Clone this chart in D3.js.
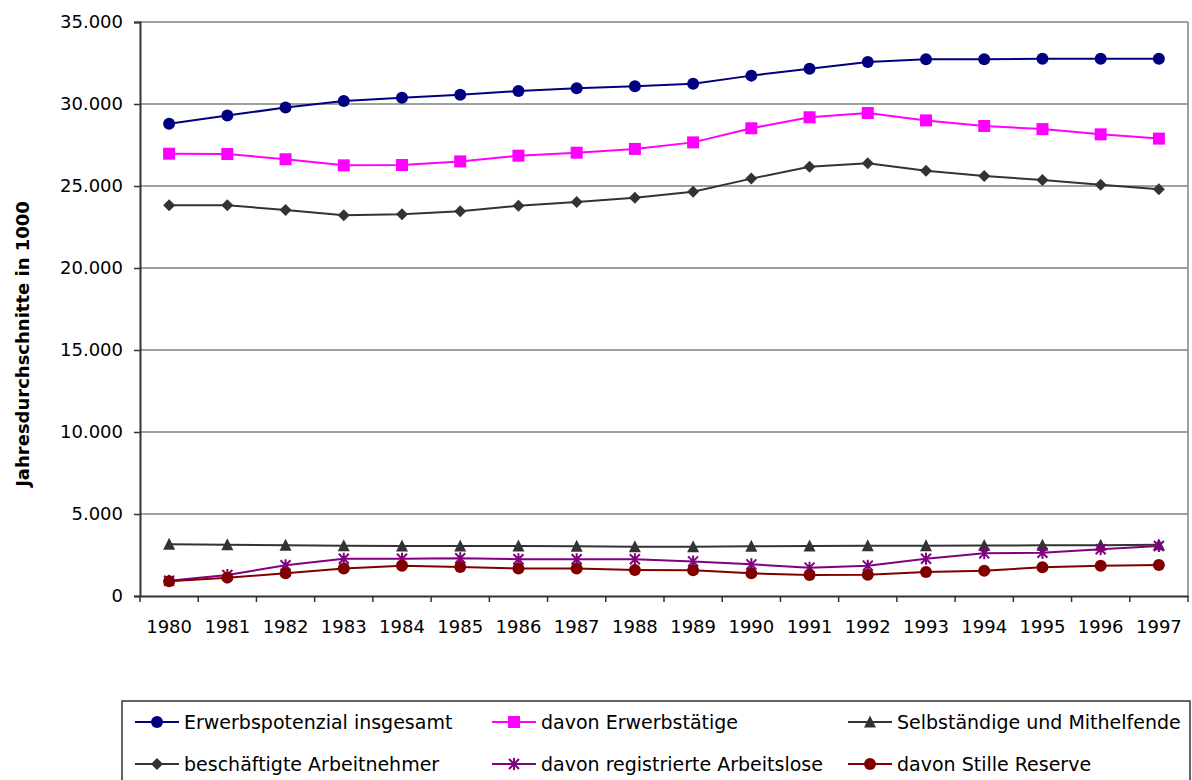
<!DOCTYPE html>
<html>
<head>
<meta charset="utf-8">
<script src="https://cdn.jsdelivr.net/npm/d3@7"></script>
<style>
  body { margin: 0; background: #fff; }
  text { font-family: "DejaVu Sans", "Liberation Sans", Arial, sans-serif; }
</style>
</head>
<body>
<svg id="chart" width="1192" height="780"></svg>
<script>
var YEARS = ["1980","1981","1982","1983","1984","1985","1986","1987","1988","1989","1990","1991","1992","1993","1994","1995","1996","1997"];
var Y_TICKS = [0, 5000, 10000, 15000, 20000, 25000, 30000, 35000];

var erwerbspotenzial = [28800,29300,29780,30180,30380,30570,30790,30960,31080,31240,31730,32150,32560,32730,32730,32760,32760,32760];
var erwerbstaetige   = [26970,26950,26630,26260,26280,26500,26850,27030,27260,27660,28520,29190,29450,29000,28660,28470,28150,27890];
var selbstaendige    = [3150,3130,3090,3060,3050,3050,3050,3030,3010,3010,3030,3050,3070,3070,3080,3090,3100,3120];
var arbeitnehmer     = [23820,23820,23540,23210,23270,23460,23800,24020,24290,24650,25450,26180,26380,25930,25610,25370,25080,24800];
var arbeitslose      = [930,1280,1870,2270,2270,2300,2240,2240,2240,2110,1930,1730,1850,2270,2600,2640,2850,3050];
var stilleReserve    = [900,1120,1380,1670,1850,1770,1670,1670,1590,1570,1380,1280,1300,1460,1540,1750,1850,1890];

var SERIES = [
    {name: "Erwerbspotenzial insgesamt", values: erwerbspotenzial, color: "#000080", marker: "circle"},
    {name: "davon Erwerbstätige", values: erwerbstaetige, color: "#FF00FF", marker: "square"},
    {name: "Selbständige und Mithelfende", values: selbstaendige, color: "#333333", marker: "triangle"},
    {name: "beschäftigte Arbeitnehmer", values: arbeitnehmer, color: "#333333", marker: "diamond"},
    {name: "davon registrierte Arbeitslose", values: arbeitslose, color: "#800080", marker: "star"},
    {name: "davon Stille Reserve", values: stilleReserve, color: "#800000", marker: "circle"}
];

var svg = d3.select("#chart");
var margin = {top: 22, right: 4, bottom: 184, left: 140};
var width = 1192 - margin.left - margin.right;
var height = 780 - margin.top - margin.bottom;
var g = svg.append("g").attr("transform", "translate(" + margin.left + "," + margin.top + ")");

var x = d3.scaleBand().domain(YEARS).range([0, width]);
var y = d3.scaleLinear().domain([0, 35000]).range([height, 0]);

var de = d3.formatLocale({decimal: ",", thousands: ".", grouping: [3], currency: ["", " €"]});
var fmt = de.format(",");

/* gridlines */
g.append("g").selectAll("line")
    .data(Y_TICKS.filter(function(d){ return d > 0; }))
    .enter().append("line")
    .attr("x1", 0).attr("x2", width)
    .attr("y1", function(d){ return y(d); }).attr("y2", function(d){ return y(d); })
    .attr("stroke", "#808080").attr("stroke-width", 1.5);

/* right border of plot area */
g.append("line").attr("x1", width).attr("x2", width).attr("y1", 0).attr("y2", height)
    .attr("stroke", "#808080").attr("stroke-width", 1.5);

/* axes */
var yAxis = g.append("g")
    .call(d3.axisLeft(y).tickValues(Y_TICKS).tickFormat(fmt).tickSizeOuter(0).tickSize(6).tickPadding(11));
yAxis.attr("font-family", null);
yAxis.select(".domain").attr("stroke", "#333").attr("stroke-width", 2);
yAxis.selectAll(".tick line").attr("stroke", "#333").attr("stroke-width", 1.5);
yAxis.selectAll("text").attr("font-size", 18).attr("fill", "#000");

var xAxis = g.append("g").attr("transform", "translate(0," + height + ")")
    .call(d3.axisBottom(x).tickSize(0).tickSizeOuter(0).tickPadding(24));
xAxis.attr("font-family", null);
xAxis.select(".domain").attr("stroke", "#333").attr("stroke-width", 2);
xAxis.selectAll("text").attr("font-size", 18).attr("fill", "#000");
/* ticks at band boundaries */
xAxis.append("g").selectAll("line")
    .data(d3.range(YEARS.length + 1))
    .enter().append("line")
    .attr("x1", function(i){ return i * x.step(); })
    .attr("x2", function(i){ return i * x.step(); })
    .attr("y1", 0).attr("y2", 6)
    .attr("stroke", "#333").attr("stroke-width", 1.5);

svg.append("text")
    .attr("transform", "translate(29,344) rotate(-90)")
    .attr("text-anchor", "middle")
    .attr("font-size", 18).attr("font-weight", "bold")
    .text("Jahresdurchschnitte in 1000");

function drawMarker(sel, type, color) {
    if (type === "circle") {
        sel.append("circle").attr("r", 6).attr("fill", color);
    } else if (type === "square") {
        sel.append("rect").attr("x", -6).attr("y", -6).attr("width", 12).attr("height", 12).attr("fill", color);
    } else if (type === "triangle") {
        sel.append("path").attr("d", "M0,-6.5L6,5.5L-6,5.5Z").attr("fill", color);
    } else if (type === "diamond") {
        sel.append("path").attr("d", "M0,-6L6,0L0,6L-6,0Z").attr("fill", color);
    } else if (type === "star") {
        sel.append("path").attr("d", "M-5,-5L5,5M-5,5L5,-5M0,-6L0,6")
            .attr("stroke", color).attr("stroke-width", 2).attr("fill", "none");
    }
}

var line = d3.line()
    .x(function(d, i){ return x(YEARS[i]) + x.bandwidth() / 2; })
    .y(function(d){ return y(d); });

SERIES.forEach(function(s){
    var sg = g.append("g");
    sg.append("path").attr("d", line(s.values))
        .attr("fill", "none").attr("stroke", s.color).attr("stroke-width", 2);
    s.values.forEach(function(v, i){
        var m = sg.append("g").attr("transform", "translate(" + (x(YEARS[i]) + x.bandwidth() / 2) + "," + y(v) + ")");
        drawMarker(m, s.marker, s.color);
    });
});

/* legend */
var legend = svg.append("g");
legend.append("rect").attr("x", 122).attr("y", 701).attr("width", 1068).attr("height", 90)
    .attr("fill", "none").attr("stroke", "#333").attr("stroke-width", 1.5);
var colX = [135, 492, 848];
var rowY = [722, 764];
SERIES.forEach(function(s, i){
    var lx = colX[i % 3], ly = rowY[Math.floor(i / 3)];
    var item = legend.append("g").attr("transform", "translate(" + lx + "," + ly + ")");
    item.append("line").attr("x1", 0).attr("x2", 44).attr("y1", 0).attr("y2", 0)
        .attr("stroke", s.color).attr("stroke-width", 2);
    drawMarker(item.append("g").attr("transform", "translate(22,0)"), s.marker, s.color);
    item.append("text").attr("x", 49).attr("y", 7).attr("font-size", 19).attr("fill", "#000").text(s.name);
});
</script>
</body>
</html>
